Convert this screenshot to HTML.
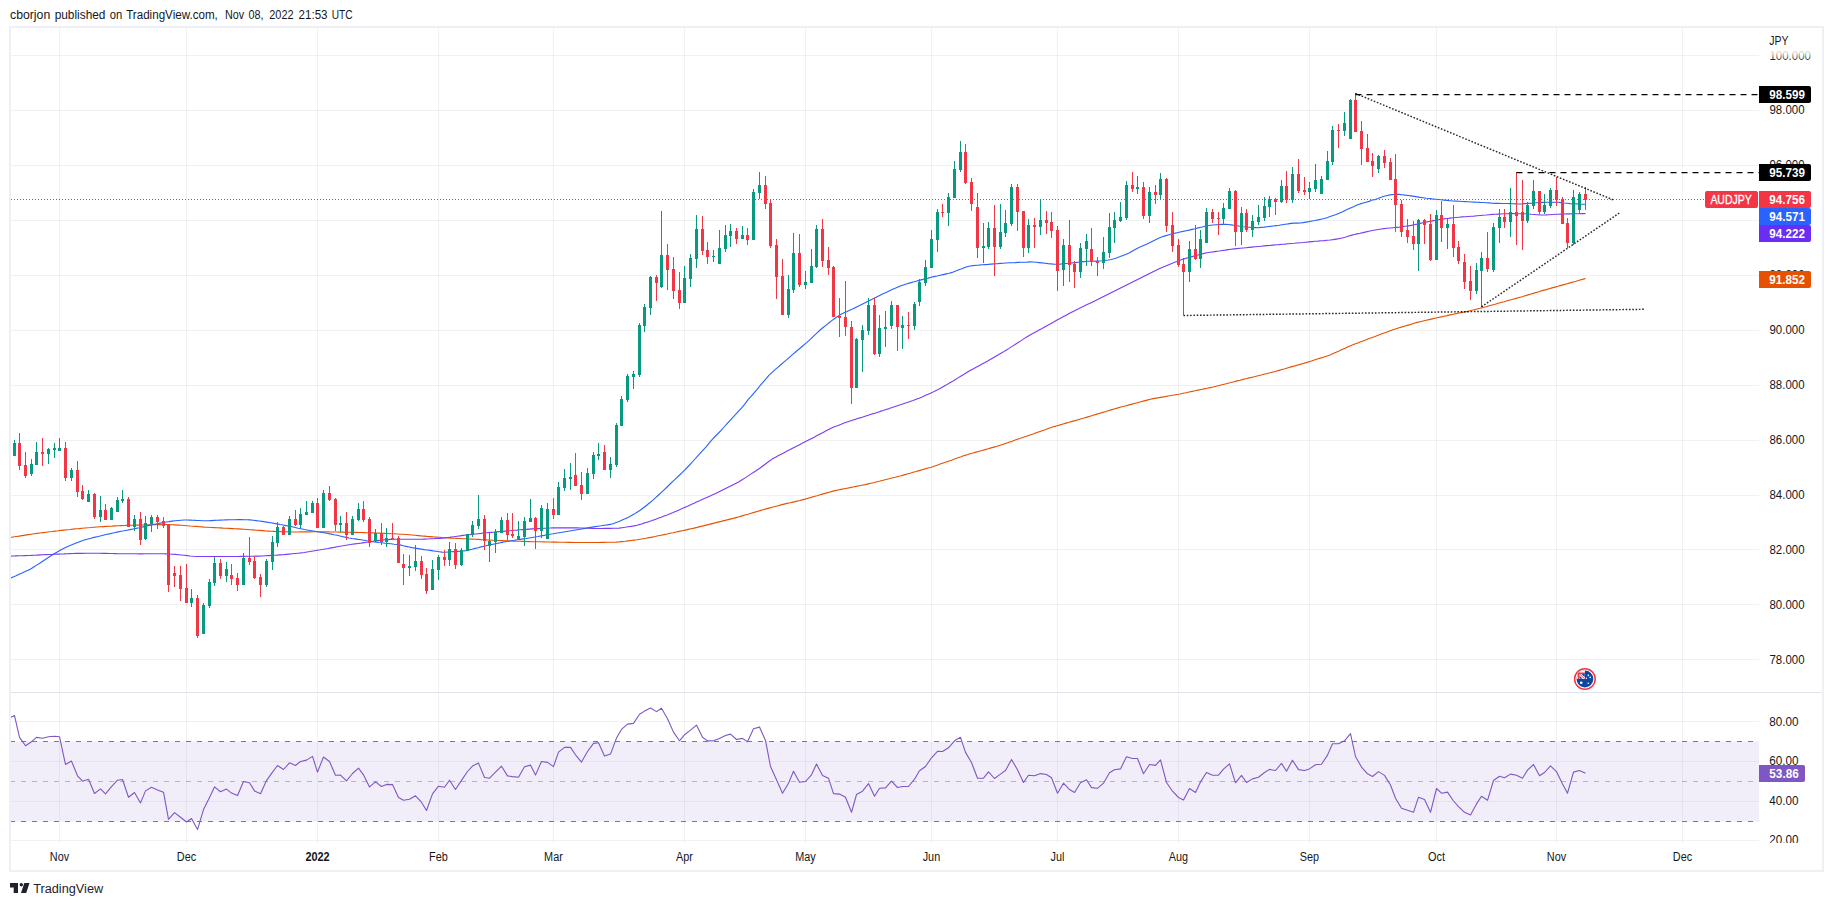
<!DOCTYPE html>
<html lang="en"><head><meta charset="utf-8"><title>AUDJPY chart</title>
<style>html,body{margin:0;padding:0;background:#fff}body{width:1833px;height:906px;overflow:hidden;position:relative}</style></head>
<body>
<svg width="1833" height="906" viewBox="0 0 1833 906" style="position:absolute;left:0;top:0;font-family:'Liberation Sans', Arial, sans-serif">
<rect x="0" y="0" width="1833" height="906" fill="#ffffff"/>
<text y="19" font-size="12.5" fill="#131722"><tspan x="10.0" textLength="40.2" lengthAdjust="spacingAndGlyphs">cborjon</tspan> <tspan x="54.7" textLength="50.7" lengthAdjust="spacingAndGlyphs">published</tspan> <tspan x="109.7" textLength="12.5" lengthAdjust="spacingAndGlyphs">on</tspan> <tspan x="126.2" textLength="91.6" lengthAdjust="spacingAndGlyphs">TradingView.com,</tspan> <tspan x="225.1" textLength="19.1" lengthAdjust="spacingAndGlyphs">Nov</tspan> <tspan x="248.4" textLength="15.1" lengthAdjust="spacingAndGlyphs">08,</tspan> <tspan x="269.3" textLength="24.3" lengthAdjust="spacingAndGlyphs">2022</tspan> <tspan x="298.6" textLength="28.9" lengthAdjust="spacingAndGlyphs">21:53</tspan> <tspan x="331.7" textLength="20.9" lengthAdjust="spacingAndGlyphs">UTC</tspan></text>
<g shape-rendering="crispEdges" fill="#2a2e39" fill-opacity="0.065"><rect x="11" y="55" width="1748" height="1"/><rect x="11" y="110" width="1748" height="1"/><rect x="11" y="165" width="1748" height="1"/><rect x="11" y="220" width="1748" height="1"/><rect x="11" y="275" width="1748" height="1"/><rect x="11" y="330" width="1748" height="1"/><rect x="11" y="385" width="1748" height="1"/><rect x="11" y="440" width="1748" height="1"/><rect x="11" y="495" width="1748" height="1"/><rect x="11" y="549" width="1748" height="1"/><rect x="11" y="604" width="1748" height="1"/><rect x="11" y="659" width="1748" height="1"/><rect x="11" y="721" width="1748" height="1"/><rect x="11" y="761" width="1748" height="1"/><rect x="11" y="801" width="1748" height="1"/><rect x="11" y="840" width="1748" height="1"/><rect x="59" y="28" width="1" height="815"/><rect x="186" y="28" width="1" height="815"/><rect x="317" y="28" width="1" height="815"/><rect x="438" y="28" width="1" height="815"/><rect x="553" y="28" width="1" height="815"/><rect x="684" y="28" width="1" height="815"/><rect x="805" y="28" width="1" height="815"/><rect x="931" y="28" width="1" height="815"/><rect x="1057" y="28" width="1" height="815"/><rect x="1178" y="28" width="1" height="815"/><rect x="1309" y="28" width="1" height="815"/><rect x="1436" y="28" width="1" height="815"/><rect x="1556" y="28" width="1" height="815"/><rect x="1682" y="28" width="1" height="815"/></g>
<rect x="11" y="741.5" width="1748" height="80" fill="#7e57c2" fill-opacity="0.1"/>
<g shape-rendering="crispEdges"><line x1="10" y1="741.5" x2="1759" y2="741.5" stroke="#787b86" stroke-width="1" stroke-dasharray="5 6"/><line x1="10" y1="781.5" x2="1759" y2="781.5" stroke="#787b86" stroke-opacity="0.5" stroke-width="1" stroke-dasharray="5 6"/><line x1="10" y1="821.5" x2="1759" y2="821.5" stroke="#787b86" stroke-width="1" stroke-dasharray="5 6"/></g>
<rect x="11" y="692" width="1811" height="1" fill="#e0e3eb" shape-rendering="crispEdges"/>
<path d="M10.1 537.5 L13.1 537.0 L16.1 536.5 L19.1 536.1 L22.1 535.6 L25.1 535.1 L28.1 534.6 L31.1 534.2 L34.1 533.8 L37.1 533.4 L40.1 533.0 L43.1 532.6 L46.1 532.2 L49.1 531.8 L52.1 531.5 L55.1 531.1 L58.1 530.8 L61.1 530.4 L64.1 530.1 L67.1 529.8 L70.1 529.5 L73.1 529.1 L76.1 528.8 L79.1 528.6 L82.1 528.3 L85.1 528.0 L88.1 527.7 L91.1 527.5 L94.1 527.2 L97.1 527.0 L100.1 526.8 L103.1 526.6 L106.1 526.4 L109.1 526.2 L112.1 526.1 L115.1 525.9 L118.1 525.7 L121.1 525.6 L124.1 525.5 L127.1 525.4 L130.1 525.3 L133.1 525.2 L136.1 525.1 L139.1 525.1 L142.1 525.0 L145.1 524.9 L148.1 524.9 L151.1 524.8 L154.1 524.7 L157.1 524.6 L160.1 524.6 L163.1 524.5 L166.1 524.5 L169.1 524.6 L172.1 524.8 L175.1 524.9 L178.1 525.1 L181.1 525.3 L184.1 525.5 L187.1 525.7 L190.1 526.0 L193.1 526.2 L196.1 526.4 L199.1 526.7 L202.1 526.9 L205.1 527.2 L208.1 527.3 L211.1 527.5 L214.1 527.6 L217.1 527.8 L220.1 527.9 L223.1 528.1 L226.1 528.2 L229.1 528.4 L232.1 528.6 L235.1 528.8 L238.1 528.9 L241.1 529.1 L244.1 529.3 L247.1 529.5 L250.1 529.7 L253.1 529.9 L256.1 530.2 L259.1 530.4 L262.1 530.6 L265.1 530.9 L268.1 531.1 L271.1 531.3 L274.1 531.4 L277.1 531.5 L280.1 531.6 L283.1 531.7 L286.1 531.8 L289.1 531.9 L292.1 532.0 L295.1 532.0 L298.1 532.0 L301.1 531.9 L304.1 531.9 L307.1 531.9 L310.1 531.9 L313.1 531.8 L316.1 531.8 L319.1 531.8 L322.1 531.9 L325.1 531.9 L328.1 531.9 L331.1 532.0 L334.1 532.0 L337.1 532.0 L340.1 532.1 L343.1 532.1 L346.1 532.2 L349.1 532.3 L352.1 532.3 L355.1 532.4 L358.1 532.5 L361.1 532.5 L364.1 532.6 L367.1 532.7 L370.1 532.8 L373.1 532.9 L376.1 533.0 L379.1 533.1 L382.1 533.2 L385.1 533.4 L388.1 533.5 L391.1 533.7 L394.1 533.8 L397.1 534.0 L400.1 534.2 L403.1 534.3 L406.1 534.5 L409.1 534.7 L412.1 535.0 L415.1 535.3 L418.1 535.6 L421.1 535.9 L424.1 536.1 L427.1 536.4 L430.1 536.6 L433.1 536.9 L436.1 537.1 L439.1 537.3 L442.1 537.6 L445.1 537.8 L448.1 537.9 L451.1 538.1 L454.1 538.2 L457.1 538.4 L460.1 538.5 L463.1 538.7 L466.1 538.8 L469.1 539.0 L472.1 539.1 L475.1 539.3 L478.1 539.4 L481.1 539.6 L484.1 539.7 L487.1 539.9 L490.1 540.0 L493.1 540.2 L496.1 540.3 L499.1 540.5 L502.1 540.6 L505.1 540.8 L508.1 540.9 L511.1 541.0 L514.1 541.1 L517.1 541.2 L520.1 541.3 L523.1 541.4 L526.1 541.5 L529.1 541.6 L532.1 541.7 L535.1 541.7 L538.1 541.8 L541.1 541.8 L544.1 541.9 L547.1 542.0 L550.1 542.0 L553.1 542.1 L556.1 542.1 L559.1 542.2 L562.1 542.3 L565.1 542.3 L568.1 542.4 L571.1 542.4 L574.1 542.5 L577.1 542.5 L580.1 542.5 L583.1 542.5 L586.1 542.5 L589.1 542.5 L592.1 542.5 L595.1 542.5 L598.1 542.5 L601.1 542.4 L604.1 542.4 L607.1 542.3 L610.1 542.2 L613.1 542.2 L616.1 542.1 L619.1 541.9 L622.1 541.6 L625.1 541.3 L628.1 540.9 L631.1 540.5 L634.1 540.1 L637.1 539.7 L640.1 539.2 L643.1 538.7 L646.1 538.2 L649.1 537.6 L652.1 537.1 L655.1 536.5 L658.1 535.8 L661.1 535.2 L664.1 534.6 L667.1 534.0 L670.1 533.3 L673.1 532.7 L676.1 532.0 L679.1 531.4 L682.1 530.7 L685.1 530.1 L688.1 529.4 L691.1 528.7 L694.1 528.1 L697.1 527.4 L700.1 526.6 L703.1 525.9 L706.1 525.1 L709.1 524.4 L712.1 523.6 L715.1 522.9 L718.1 522.1 L721.1 521.4 L724.1 520.6 L727.1 519.9 L730.1 519.1 L733.1 518.4 L736.1 517.6 L739.1 516.8 L742.1 515.9 L745.1 515.0 L748.1 514.2 L751.1 513.3 L754.1 512.4 L757.1 511.5 L760.1 510.6 L763.1 509.7 L766.1 508.9 L769.1 508.1 L772.1 507.3 L775.1 506.5 L778.1 505.7 L781.1 504.9 L784.1 504.1 L787.1 503.4 L790.1 502.8 L793.1 502.1 L796.1 501.4 L799.1 500.7 L802.1 499.9 L805.1 499.1 L808.1 498.2 L811.1 497.4 L814.1 496.5 L817.1 495.7 L820.1 494.8 L823.1 493.9 L826.1 493.1 L829.1 492.2 L832.1 491.4 L835.1 490.6 L838.1 490.0 L841.1 489.4 L844.1 488.8 L847.1 488.2 L850.1 487.6 L853.1 487.0 L856.1 486.4 L859.1 485.8 L862.1 485.2 L865.1 484.6 L868.1 483.9 L871.1 483.2 L874.1 482.5 L877.1 481.7 L880.1 481.0 L883.1 480.2 L886.1 479.5 L889.1 478.8 L892.1 478.0 L895.1 477.3 L898.1 476.5 L901.1 475.8 L904.1 474.9 L907.1 474.0 L910.1 473.2 L913.1 472.3 L916.1 471.5 L919.1 470.6 L922.1 469.7 L925.1 468.9 L928.1 468.0 L931.1 467.2 L934.1 466.2 L937.1 465.2 L940.1 464.1 L943.1 463.0 L946.1 462.0 L949.1 460.9 L952.1 459.9 L955.1 458.8 L958.1 457.7 L961.1 456.7 L964.1 455.6 L967.1 454.7 L970.1 453.8 L973.1 453.0 L976.1 452.1 L979.1 451.3 L982.1 450.5 L985.1 449.6 L988.1 448.8 L991.1 447.9 L994.1 447.1 L997.1 446.3 L1000.1 445.3 L1003.1 444.3 L1006.1 443.2 L1009.1 442.2 L1012.1 441.2 L1015.1 440.1 L1018.1 439.1 L1021.1 438.1 L1024.1 437.0 L1027.1 436.0 L1030.1 434.9 L1033.1 433.9 L1036.1 432.8 L1039.1 431.8 L1042.1 430.7 L1045.1 429.7 L1048.1 428.6 L1051.1 427.6 L1054.1 426.6 L1057.1 425.7 L1060.1 424.9 L1063.1 424.0 L1066.1 423.1 L1069.1 422.3 L1072.1 421.4 L1075.1 420.6 L1078.1 419.7 L1081.1 418.8 L1084.1 418.0 L1087.1 417.1 L1090.1 416.2 L1093.1 415.3 L1096.1 414.4 L1099.1 413.5 L1102.1 412.6 L1105.1 411.7 L1108.1 410.8 L1111.1 409.9 L1114.1 409.0 L1117.1 408.1 L1120.1 407.3 L1123.1 406.5 L1126.1 405.7 L1129.1 404.9 L1132.1 404.1 L1135.1 403.3 L1138.1 402.5 L1141.1 401.7 L1144.1 400.9 L1147.1 400.1 L1150.1 399.3 L1153.1 398.6 L1156.1 398.1 L1159.1 397.6 L1162.1 397.1 L1165.1 396.6 L1168.1 396.0 L1171.1 395.5 L1174.1 395.0 L1177.1 394.5 L1180.1 394.0 L1183.1 393.3 L1186.1 392.7 L1189.1 392.0 L1192.1 391.4 L1195.1 390.8 L1198.1 390.1 L1201.1 389.5 L1204.1 388.9 L1207.1 388.3 L1210.1 387.6 L1213.1 387.0 L1216.1 386.3 L1219.1 385.5 L1222.1 384.7 L1225.1 384.0 L1228.1 383.2 L1231.1 382.5 L1234.1 381.7 L1237.1 380.9 L1240.1 380.2 L1243.1 379.4 L1246.1 378.7 L1249.1 377.9 L1252.1 377.2 L1255.1 376.5 L1258.1 375.7 L1261.1 375.0 L1264.1 374.2 L1267.1 373.5 L1270.1 372.8 L1273.1 372.0 L1276.1 371.2 L1279.1 370.4 L1282.1 369.5 L1285.1 368.7 L1288.1 367.8 L1291.1 366.9 L1294.1 366.1 L1297.1 365.2 L1300.1 364.4 L1303.1 363.5 L1306.1 362.6 L1309.1 361.7 L1312.1 360.8 L1315.1 359.8 L1318.1 358.8 L1321.1 357.9 L1324.1 356.9 L1327.1 355.9 L1330.1 354.9 L1333.1 353.6 L1336.1 352.2 L1339.1 350.9 L1342.1 349.5 L1345.1 348.2 L1348.1 346.8 L1351.1 345.5 L1354.1 344.3 L1357.1 343.2 L1360.1 342.0 L1363.1 340.9 L1366.1 339.8 L1369.1 338.6 L1372.1 337.5 L1375.1 336.4 L1378.1 335.2 L1381.1 334.1 L1384.1 333.0 L1387.1 331.9 L1390.1 330.8 L1393.1 329.7 L1396.1 328.7 L1399.1 327.8 L1402.1 326.9 L1405.1 326.0 L1408.1 325.1 L1411.1 324.2 L1414.1 323.3 L1417.1 322.4 L1420.1 321.7 L1423.1 321.0 L1426.1 320.3 L1429.1 319.6 L1432.1 318.9 L1435.1 318.2 L1438.1 317.5 L1441.1 316.9 L1444.1 316.2 L1447.1 315.6 L1450.1 314.9 L1453.1 314.3 L1456.1 313.6 L1459.1 313.0 L1462.1 312.4 L1465.1 311.9 L1468.1 311.2 L1471.1 310.5 L1474.1 309.8 L1477.1 309.0 L1480.1 308.3 L1483.1 307.5 L1486.1 306.7 L1489.1 305.8 L1492.1 305.0 L1495.1 304.2 L1498.1 303.3 L1501.1 302.5 L1504.1 301.7 L1507.1 300.8 L1510.1 300.0 L1513.1 299.2 L1516.1 298.4 L1519.1 297.5 L1522.1 296.7 L1525.1 295.8 L1528.1 294.9 L1531.1 294.0 L1534.1 293.1 L1537.1 292.2 L1540.1 291.3 L1543.1 290.4 L1546.1 289.6 L1549.1 288.7 L1552.1 287.9 L1555.1 287.1 L1558.1 286.3 L1561.1 285.4 L1564.1 284.6 L1567.1 283.8 L1570.1 282.9 L1573.1 282.0 L1576.1 281.2 L1579.1 280.3 L1585.1 278.6" fill="none" stroke="#e65100" stroke-width="1.1" stroke-linejoin="round" stroke-linecap="round"/>
<path d="M10.1 556.1 L13.1 556.0 L16.1 555.9 L19.1 555.8 L22.1 555.7 L25.1 555.6 L28.1 555.5 L31.1 555.4 L34.1 555.2 L37.1 555.1 L40.1 554.9 L43.1 554.8 L46.1 554.6 L49.1 554.5 L52.1 554.4 L55.1 554.2 L58.1 554.1 L61.1 554.0 L64.1 553.9 L67.1 553.7 L70.1 553.6 L73.1 553.5 L76.1 553.4 L79.1 553.4 L82.1 553.4 L85.1 553.3 L88.1 553.3 L91.1 553.3 L94.1 553.3 L97.1 553.2 L100.1 553.3 L103.1 553.4 L106.1 553.4 L109.1 553.5 L112.1 553.5 L115.1 553.6 L118.1 553.7 L121.1 553.7 L124.1 553.7 L127.1 553.7 L130.1 553.8 L133.1 553.8 L136.1 553.8 L139.1 553.9 L142.1 553.9 L145.1 553.8 L148.1 553.8 L151.1 553.8 L154.1 553.8 L157.1 553.7 L160.1 553.7 L163.1 553.8 L166.1 553.9 L169.1 554.0 L172.1 554.2 L175.1 554.4 L178.1 554.7 L181.1 555.0 L184.1 555.3 L187.1 555.6 L190.1 556.0 L193.1 556.3 L196.1 556.5 L199.1 556.5 L202.1 556.5 L205.1 556.5 L208.1 556.5 L211.1 556.5 L214.1 556.5 L217.1 556.5 L220.1 556.5 L223.1 556.5 L226.1 556.5 L229.1 556.5 L232.1 556.5 L235.1 556.5 L238.1 556.5 L241.1 556.4 L244.1 556.4 L247.1 556.3 L250.1 556.3 L253.1 556.2 L256.1 556.1 L259.1 556.1 L262.1 556.0 L265.1 555.8 L268.1 555.6 L271.1 555.4 L274.1 555.2 L277.1 555.1 L280.1 554.9 L283.1 554.7 L286.1 554.4 L289.1 554.1 L292.1 553.8 L295.1 553.5 L298.1 553.2 L301.1 552.9 L304.1 552.5 L307.1 552.0 L310.1 551.5 L313.1 551.0 L316.1 550.5 L319.1 550.0 L322.1 549.5 L325.1 549.0 L328.1 548.5 L331.1 547.9 L334.1 547.4 L337.1 546.8 L340.1 546.3 L343.1 545.8 L346.1 545.2 L349.1 544.7 L352.1 544.3 L355.1 543.9 L358.1 543.5 L361.1 543.1 L364.1 542.6 L367.1 542.2 L370.1 541.8 L373.1 541.3 L376.1 540.9 L379.1 540.4 L382.1 540.1 L385.1 539.8 L388.1 539.6 L391.1 539.4 L394.1 539.3 L397.1 539.3 L400.1 539.3 L403.1 539.2 L406.1 539.2 L409.1 539.2 L412.1 539.2 L415.1 539.2 L418.1 539.2 L421.1 539.2 L424.1 539.1 L427.1 539.0 L430.1 538.8 L433.1 538.7 L436.1 538.5 L439.1 538.4 L442.1 538.2 L445.1 537.9 L448.1 537.5 L451.1 537.1 L454.1 536.7 L457.1 536.3 L460.1 535.9 L463.1 535.4 L466.1 535.0 L469.1 534.7 L472.1 534.4 L475.1 534.0 L478.1 533.7 L481.1 533.4 L484.1 533.0 L487.1 532.7 L490.1 532.4 L493.1 532.2 L496.1 531.9 L499.1 531.6 L502.1 531.4 L505.1 531.1 L508.1 530.8 L511.1 530.6 L514.1 530.3 L517.1 530.1 L520.1 529.8 L523.1 529.6 L526.1 529.4 L529.1 529.1 L532.1 528.9 L535.1 528.8 L538.1 528.6 L541.1 528.5 L544.1 528.3 L547.1 528.2 L550.1 528.0 L553.1 527.9 L556.1 527.9 L559.1 527.9 L562.1 527.9 L565.1 527.9 L568.1 527.9 L571.1 527.9 L574.1 527.9 L577.1 527.9 L580.1 528.0 L583.1 528.1 L586.1 528.2 L589.1 528.3 L592.1 528.4 L595.1 528.5 L598.1 528.5 L601.1 528.5 L604.1 528.4 L607.1 528.4 L610.1 528.4 L613.1 528.3 L616.1 528.3 L619.1 528.1 L622.1 527.7 L625.1 527.3 L628.1 526.8 L631.1 526.4 L634.1 525.9 L637.1 525.2 L640.1 524.4 L643.1 523.4 L646.1 522.5 L649.1 521.6 L652.1 520.6 L655.1 519.4 L658.1 518.3 L661.1 517.2 L664.1 516.0 L667.1 514.9 L670.1 513.7 L673.1 512.6 L676.1 511.3 L679.1 509.9 L682.1 508.6 L685.1 507.2 L688.1 505.9 L691.1 504.5 L694.1 503.2 L697.1 501.8 L700.1 500.5 L703.1 499.1 L706.1 497.8 L709.1 496.4 L712.1 495.1 L715.1 493.7 L718.1 492.3 L721.1 490.8 L724.1 489.3 L727.1 487.8 L730.1 486.3 L733.1 484.8 L736.1 483.3 L739.1 481.7 L742.1 479.8 L745.1 477.9 L748.1 475.9 L751.1 473.9 L754.1 472.0 L757.1 470.0 L760.1 468.0 L763.1 465.8 L766.1 463.5 L769.1 461.2 L772.1 459.1 L775.1 457.5 L778.1 455.8 L781.1 454.3 L784.1 452.7 L787.1 451.1 L790.1 449.6 L793.1 448.0 L796.1 446.4 L799.1 444.9 L802.1 443.3 L805.1 441.8 L808.1 440.3 L811.1 438.7 L814.1 437.2 L817.1 435.6 L820.1 434.0 L823.1 432.4 L826.1 430.8 L829.1 429.2 L832.1 427.7 L835.1 426.5 L838.1 425.4 L841.1 424.3 L844.1 423.1 L847.1 422.0 L850.1 421.0 L853.1 420.0 L856.1 419.1 L859.1 418.1 L862.1 417.2 L865.1 416.2 L868.1 415.3 L871.1 414.3 L874.1 413.4 L877.1 412.4 L880.1 411.4 L883.1 410.5 L886.1 409.5 L889.1 408.6 L892.1 407.6 L895.1 406.6 L898.1 405.6 L901.1 404.6 L904.1 403.5 L907.1 402.5 L910.1 401.4 L913.1 400.4 L916.1 399.3 L919.1 398.2 L922.1 396.9 L925.1 395.6 L928.1 394.3 L931.1 392.9 L934.1 391.6 L937.1 390.1 L940.1 388.5 L943.1 386.8 L946.1 385.1 L949.1 383.3 L952.1 381.6 L955.1 379.7 L958.1 377.9 L961.1 376.0 L964.1 374.2 L967.1 372.3 L970.1 370.6 L973.1 368.9 L976.1 367.3 L979.1 365.7 L982.1 364.1 L985.1 362.5 L988.1 360.8 L991.1 359.0 L994.1 357.3 L997.1 355.5 L1000.1 353.8 L1003.1 352.1 L1006.1 350.3 L1009.1 348.4 L1012.1 346.4 L1015.1 344.5 L1018.1 342.5 L1021.1 340.6 L1024.1 338.6 L1027.1 336.7 L1030.1 335.0 L1033.1 333.3 L1036.1 331.7 L1039.1 330.0 L1042.1 328.4 L1045.1 326.7 L1048.1 325.1 L1051.1 323.4 L1054.1 321.8 L1057.1 320.1 L1060.1 318.5 L1063.1 316.8 L1066.1 315.2 L1069.1 313.5 L1072.1 311.9 L1075.1 310.4 L1078.1 309.0 L1081.1 307.5 L1084.1 306.1 L1087.1 304.6 L1090.1 303.2 L1093.1 301.7 L1096.1 300.3 L1099.1 298.8 L1102.1 297.3 L1105.1 295.8 L1108.1 294.3 L1111.1 292.8 L1114.1 291.3 L1117.1 289.8 L1120.1 288.3 L1123.1 286.8 L1126.1 285.3 L1129.1 283.8 L1132.1 282.3 L1135.1 280.8 L1138.1 279.3 L1141.1 277.8 L1144.1 276.3 L1147.1 274.8 L1150.1 273.3 L1153.1 271.8 L1156.1 270.3 L1159.1 268.8 L1162.1 267.5 L1165.1 266.2 L1168.1 265.0 L1171.1 263.8 L1174.1 262.6 L1177.1 261.4 L1180.1 260.2 L1183.1 259.1 L1186.1 258.2 L1189.1 257.4 L1192.1 256.6 L1195.1 255.8 L1198.1 255.0 L1201.1 254.2 L1204.1 253.4 L1207.1 252.8 L1210.1 252.3 L1213.1 251.9 L1216.1 251.4 L1219.1 251.0 L1222.1 250.5 L1225.1 250.1 L1228.1 249.6 L1231.1 249.2 L1234.1 248.9 L1237.1 248.6 L1240.1 248.3 L1243.1 248.0 L1246.1 247.7 L1249.1 247.4 L1252.1 247.1 L1255.1 246.8 L1258.1 246.5 L1261.1 246.2 L1264.1 245.9 L1267.1 245.6 L1270.1 245.4 L1273.1 245.1 L1276.1 244.8 L1279.1 244.6 L1282.1 244.3 L1285.1 244.1 L1288.1 243.8 L1291.1 243.5 L1294.1 243.3 L1297.1 243.0 L1300.1 242.7 L1303.1 242.5 L1306.1 242.2 L1309.1 241.9 L1312.1 241.6 L1315.1 241.3 L1318.1 241.1 L1321.1 240.8 L1324.1 240.6 L1327.1 240.3 L1330.1 240.0 L1333.1 239.6 L1336.1 239.1 L1339.1 238.6 L1342.1 238.0 L1345.1 237.2 L1348.1 236.3 L1351.1 235.4 L1354.1 234.5 L1357.1 233.9 L1360.1 233.3 L1363.1 232.6 L1366.1 231.9 L1369.1 231.2 L1372.1 230.5 L1375.1 230.0 L1378.1 229.5 L1381.1 229.0 L1384.1 228.6 L1387.1 228.3 L1390.1 228.0 L1393.1 227.7 L1396.1 227.4 L1399.1 227.1 L1402.1 226.7 L1405.1 226.3 L1408.1 225.9 L1411.1 225.4 L1414.1 224.7 L1417.1 224.1 L1420.1 223.4 L1423.1 222.7 L1426.1 222.1 L1429.1 221.5 L1432.1 220.9 L1435.1 220.4 L1438.1 219.8 L1441.1 219.3 L1444.1 218.9 L1447.1 218.5 L1450.1 218.1 L1453.1 217.8 L1456.1 217.5 L1459.1 217.2 L1462.1 216.9 L1465.1 216.7 L1468.1 216.5 L1471.1 216.3 L1474.1 216.1 L1477.1 215.8 L1480.1 215.5 L1483.1 215.2 L1486.1 215.0 L1489.1 214.7 L1492.1 214.4 L1495.1 214.2 L1498.1 214.1 L1501.1 214.0 L1504.1 213.8 L1507.1 213.7 L1510.1 213.6 L1513.1 213.6 L1516.1 213.7 L1519.1 213.7 L1522.1 213.8 L1525.1 213.8 L1528.1 214.0 L1531.1 214.3 L1534.1 214.5 L1537.1 214.7 L1540.1 214.9 L1543.1 215.0 L1546.1 214.9 L1549.1 214.7 L1552.1 214.5 L1555.1 214.3 L1558.1 214.2 L1561.1 214.1 L1564.1 214.0 L1567.1 213.9 L1570.1 213.9 L1573.1 213.8 L1576.1 213.7 L1579.1 213.7 L1582.1 213.6 L1585.1 213.6" fill="none" stroke="#7c3cf5" stroke-width="1.1" stroke-linejoin="round" stroke-linecap="round"/>
<path d="M10.1 578.4 L13.1 577.0 L16.1 575.7 L19.1 574.3 L22.1 573.0 L25.1 571.6 L28.1 570.2 L31.1 568.7 L34.1 566.8 L37.1 564.9 L40.1 563.0 L43.1 561.0 L46.1 559.0 L49.1 557.0 L52.1 555.0 L55.1 553.2 L58.1 551.5 L61.1 549.8 L64.1 548.2 L67.1 546.8 L70.1 545.5 L73.1 544.2 L76.1 543.0 L79.1 541.9 L82.1 540.8 L85.1 539.8 L88.1 539.0 L91.1 538.2 L94.1 537.4 L97.1 536.7 L100.1 536.0 L103.1 535.2 L106.1 534.5 L109.1 533.9 L112.1 533.2 L115.1 532.5 L118.1 531.9 L121.1 531.3 L124.1 530.8 L127.1 530.2 L130.1 529.6 L133.1 529.0 L136.1 528.4 L139.1 527.8 L142.1 527.1 L145.1 526.4 L148.1 525.6 L151.1 524.9 L154.1 524.3 L157.1 523.7 L160.1 523.1 L163.1 522.5 L166.1 522.0 L169.1 521.6 L172.1 521.1 L175.1 520.8 L178.1 520.5 L181.1 520.2 L184.1 520.0 L187.1 520.0 L190.1 520.1 L193.1 520.2 L196.1 520.4 L199.1 520.5 L202.1 520.7 L205.1 520.8 L208.1 520.8 L211.1 520.6 L214.1 520.4 L217.1 520.2 L220.1 520.1 L223.1 520.0 L226.1 519.9 L229.1 519.8 L232.1 519.7 L235.1 519.7 L238.1 519.6 L241.1 519.6 L244.1 519.7 L247.1 519.7 L250.1 519.9 L253.1 520.2 L256.1 520.6 L259.1 521.0 L262.1 521.4 L265.1 521.9 L268.1 522.4 L271.1 522.8 L274.1 523.4 L277.1 523.9 L280.1 524.5 L283.1 525.0 L286.1 525.6 L289.1 526.2 L292.1 526.8 L295.1 527.5 L298.1 528.2 L301.1 528.8 L304.1 529.5 L307.1 530.0 L310.1 530.5 L313.1 531.0 L316.1 531.5 L319.1 532.0 L322.1 532.5 L325.1 533.0 L328.1 533.5 L331.1 534.1 L334.1 534.7 L337.1 535.2 L340.1 536.0 L343.1 536.7 L346.1 537.4 L349.1 538.0 L352.1 538.5 L355.1 538.9 L358.1 539.4 L361.1 539.8 L364.1 540.3 L367.1 540.8 L370.1 541.2 L373.1 541.7 L376.1 542.1 L379.1 542.5 L382.1 542.8 L385.1 543.2 L388.1 543.5 L391.1 543.8 L394.1 544.2 L397.1 544.5 L400.1 544.9 L403.1 545.7 L406.1 546.4 L409.1 547.0 L412.1 547.6 L415.1 548.1 L418.1 548.6 L421.1 549.1 L424.1 549.6 L427.1 550.0 L430.1 550.4 L433.1 550.9 L436.1 551.3 L439.1 551.7 L442.1 552.1 L445.1 552.2 L448.1 552.0 L451.1 551.8 L454.1 551.6 L457.1 551.4 L460.1 551.2 L463.1 551.0 L466.1 550.6 L469.1 549.9 L472.1 549.2 L475.1 548.4 L478.1 547.7 L481.1 546.9 L484.1 546.2 L487.1 545.5 L490.1 544.8 L493.1 544.2 L496.1 543.6 L499.1 543.0 L502.1 542.4 L505.1 541.8 L508.1 541.2 L511.1 540.7 L514.1 540.3 L517.1 539.8 L520.1 539.4 L523.1 538.9 L526.1 538.5 L529.1 538.0 L532.1 537.5 L535.1 537.0 L538.1 536.5 L541.1 535.9 L544.1 535.4 L547.1 534.8 L550.1 534.3 L553.1 533.8 L556.1 533.2 L559.1 532.7 L562.1 532.2 L565.1 531.7 L568.1 531.2 L571.1 530.7 L574.1 530.2 L577.1 529.7 L580.1 529.2 L583.1 528.7 L586.1 528.1 L589.1 527.6 L592.1 527.1 L595.1 526.6 L598.1 526.2 L601.1 525.8 L604.1 525.3 L607.1 524.9 L610.1 524.4 L613.1 523.8 L616.1 522.6 L619.1 521.4 L622.1 520.1 L625.1 518.8 L628.1 517.4 L631.1 515.8 L634.1 514.1 L637.1 512.2 L640.1 510.3 L643.1 508.0 L646.1 505.7 L649.1 503.3 L652.1 500.8 L655.1 498.2 L658.1 495.5 L661.1 492.7 L664.1 489.9 L667.1 487.0 L670.1 484.0 L673.1 481.1 L676.1 478.3 L679.1 475.5 L682.1 472.7 L685.1 469.7 L688.1 466.5 L691.1 463.3 L694.1 460.0 L697.1 456.7 L700.1 453.4 L703.1 450.1 L706.1 446.8 L709.1 443.2 L712.1 439.6 L715.1 436.5 L718.1 433.5 L721.1 430.3 L724.1 427.0 L727.1 423.7 L730.1 420.4 L733.1 417.2 L736.1 413.9 L739.1 410.6 L742.1 407.4 L745.1 403.7 L748.1 399.7 L751.1 396.3 L754.1 392.8 L757.1 389.3 L760.1 385.7 L763.1 382.2 L766.1 378.7 L769.1 375.2 L772.1 372.4 L775.1 369.7 L778.1 367.1 L781.1 364.5 L784.1 361.9 L787.1 359.4 L790.1 356.7 L793.1 354.1 L796.1 351.5 L799.1 349.0 L802.1 346.5 L805.1 343.9 L808.1 341.3 L811.1 338.6 L814.1 335.7 L817.1 332.9 L820.1 330.0 L823.1 327.5 L826.1 325.1 L829.1 322.7 L832.1 320.4 L835.1 318.3 L838.1 316.3 L841.1 314.3 L844.1 312.8 L847.1 311.4 L850.1 310.1 L853.1 308.7 L856.1 307.2 L859.1 305.8 L862.1 304.3 L865.1 302.8 L868.1 301.3 L871.1 299.8 L874.1 298.3 L877.1 296.8 L880.1 295.3 L883.1 293.8 L886.1 292.4 L889.1 291.0 L892.1 289.6 L895.1 288.3 L898.1 286.9 L901.1 285.7 L904.1 284.7 L907.1 283.8 L910.1 282.9 L913.1 282.0 L916.1 281.2 L919.1 280.4 L922.1 279.6 L925.1 278.8 L928.1 278.1 L931.1 277.3 L934.1 276.6 L937.1 276.0 L940.1 275.3 L943.1 274.6 L946.1 273.9 L949.1 273.2 L952.1 272.4 L955.1 271.3 L958.1 270.1 L961.1 269.0 L964.1 267.8 L967.1 266.7 L970.1 266.0 L973.1 265.6 L976.1 265.3 L979.1 265.1 L982.1 264.8 L985.1 264.6 L988.1 264.4 L991.1 264.1 L994.1 263.9 L997.1 263.7 L1000.1 263.4 L1003.1 263.2 L1006.1 263.0 L1009.1 262.8 L1012.1 262.7 L1015.1 262.6 L1018.1 262.4 L1021.1 262.3 L1024.1 262.2 L1027.1 262.1 L1030.1 261.9 L1033.1 262.0 L1036.1 262.3 L1039.1 262.6 L1042.1 262.9 L1045.1 263.2 L1048.1 263.6 L1051.1 263.9 L1054.1 264.2 L1057.1 264.3 L1060.1 264.1 L1063.1 263.8 L1066.1 263.5 L1069.1 263.2 L1072.1 262.9 L1075.1 262.6 L1078.1 262.2 L1081.1 261.9 L1084.1 261.6 L1087.1 261.3 L1090.1 261.3 L1093.1 261.2 L1096.1 261.1 L1099.1 261.0 L1102.1 260.8 L1105.1 260.4 L1108.1 260.0 L1111.1 259.5 L1114.1 258.7 L1117.1 257.7 L1120.1 256.6 L1123.1 255.4 L1126.1 254.2 L1129.1 252.9 L1132.1 251.2 L1135.1 249.5 L1138.1 247.9 L1141.1 246.6 L1144.1 245.2 L1147.1 243.9 L1150.1 242.6 L1153.1 241.1 L1156.1 239.6 L1159.1 238.1 L1162.1 236.8 L1165.1 235.9 L1168.1 235.0 L1171.1 234.2 L1174.1 233.4 L1177.1 232.7 L1180.1 232.0 L1183.1 231.4 L1186.1 230.7 L1189.1 230.1 L1192.1 229.4 L1195.1 228.7 L1198.1 227.9 L1201.1 227.2 L1204.1 226.5 L1207.1 225.8 L1210.1 225.2 L1213.1 225.0 L1216.1 224.8 L1219.1 224.6 L1222.1 224.4 L1225.1 224.3 L1228.1 224.5 L1231.1 224.9 L1234.1 225.3 L1237.1 225.8 L1240.1 226.3 L1243.1 226.7 L1246.1 227.0 L1249.1 227.2 L1252.1 227.5 L1255.1 227.6 L1258.1 227.7 L1261.1 227.4 L1264.1 227.1 L1267.1 226.7 L1270.1 226.4 L1273.1 226.0 L1276.1 225.6 L1279.1 225.2 L1282.1 224.7 L1285.1 224.3 L1288.1 223.9 L1291.1 223.4 L1294.1 223.1 L1297.1 223.1 L1300.1 223.0 L1303.1 222.6 L1306.1 222.1 L1309.1 221.6 L1312.1 221.0 L1315.1 220.5 L1318.1 219.9 L1321.1 219.2 L1324.1 218.5 L1327.1 217.7 L1330.1 216.6 L1333.1 215.6 L1336.1 214.5 L1339.1 213.3 L1342.1 212.0 L1345.1 210.5 L1348.1 209.1 L1351.1 207.7 L1354.1 206.4 L1357.1 205.1 L1360.1 203.9 L1363.1 203.0 L1366.1 202.2 L1369.1 201.4 L1372.1 200.0 L1375.1 199.6 L1378.1 198.5 L1381.1 197.2 L1384.1 196.2 L1387.1 195.5 L1390.1 194.9 L1393.1 194.5 L1396.1 194.4 L1399.1 194.4 L1402.1 194.7 L1405.1 195.1 L1408.1 195.5 L1411.1 195.9 L1414.1 196.4 L1417.1 196.9 L1420.1 197.4 L1423.1 197.8 L1426.1 198.2 L1429.1 198.5 L1432.1 198.9 L1435.1 199.2 L1438.1 199.5 L1441.1 199.8 L1444.1 200.1 L1447.1 200.4 L1450.1 200.7 L1453.1 201.0 L1456.1 201.1 L1459.1 201.3 L1462.1 201.5 L1465.1 201.6 L1468.1 201.8 L1471.1 202.0 L1474.1 202.1 L1477.1 202.2 L1480.1 202.4 L1483.1 202.5 L1486.1 202.7 L1489.1 202.9 L1492.1 203.2 L1495.1 203.4 L1498.1 203.4 L1501.1 203.5 L1504.1 203.5 L1507.1 203.5 L1510.1 203.6 L1513.1 203.8 L1516.1 203.9 L1519.1 204.0 L1522.1 203.9 L1525.1 203.6 L1528.1 203.4 L1531.1 203.2 L1534.1 203.0 L1537.1 202.8 L1540.1 202.6 L1543.1 202.4 L1546.1 202.3 L1549.1 202.2 L1552.1 202.2 L1555.1 202.2 L1558.1 202.3 L1561.1 202.6 L1564.1 203.0 L1567.1 203.3 L1570.1 203.6 L1573.1 203.8 L1576.1 203.9 L1579.1 204.0 L1582.1 204.2 L1585.1 204.3" fill="none" stroke="#2962ff" stroke-width="1.1" stroke-linejoin="round" stroke-linecap="round"/>
<line x1="11" y1="199.5" x2="1705" y2="199.5" stroke="#f23645" stroke-width="1" stroke-dasharray="1 2" shape-rendering="crispEdges"/>
<g shape-rendering="crispEdges"><rect x="14" y="440" width="1" height="16" fill="#089981"/><rect x="13" y="443" width="3" height="13" fill="#089981"/><rect x="19" y="433" width="1" height="37" fill="#f23645"/><rect x="18" y="443" width="3" height="23" fill="#f23645"/><rect x="25" y="452" width="1" height="26" fill="#f23645"/><rect x="24" y="465" width="3" height="11" fill="#f23645"/><rect x="31" y="459" width="1" height="17" fill="#089981"/><rect x="30" y="464" width="3" height="10" fill="#089981"/><rect x="36" y="442" width="1" height="23" fill="#089981"/><rect x="35" y="452" width="3" height="13" fill="#089981"/><rect x="42" y="438" width="1" height="28" fill="#f23645"/><rect x="41" y="452" width="3" height="2" fill="#f23645"/><rect x="48" y="448" width="1" height="16" fill="#089981"/><rect x="47" y="449" width="3" height="5" fill="#089981"/><rect x="54" y="443" width="1" height="15" fill="#089981"/><rect x="53" y="448" width="3" height="2" fill="#089981"/><rect x="59" y="438" width="1" height="13" fill="#089981"/><rect x="58" y="448" width="3" height="3" fill="#089981"/><rect x="65" y="442" width="1" height="39" fill="#f23645"/><rect x="64" y="448" width="3" height="30" fill="#f23645"/><rect x="71" y="468" width="1" height="13" fill="#089981"/><rect x="70" y="470" width="3" height="8" fill="#089981"/><rect x="77" y="461" width="1" height="36" fill="#f23645"/><rect x="76" y="470" width="3" height="22" fill="#f23645"/><rect x="82" y="485" width="1" height="15" fill="#f23645"/><rect x="81" y="491" width="3" height="8" fill="#f23645"/><rect x="88" y="490" width="1" height="12" fill="#089981"/><rect x="87" y="494" width="3" height="8" fill="#089981"/><rect x="94" y="493" width="1" height="26" fill="#f23645"/><rect x="93" y="494" width="3" height="23" fill="#f23645"/><rect x="100" y="496" width="1" height="26" fill="#089981"/><rect x="99" y="510" width="3" height="7" fill="#089981"/><rect x="105" y="504" width="1" height="16" fill="#f23645"/><rect x="104" y="510" width="3" height="10" fill="#f23645"/><rect x="111" y="507" width="1" height="13" fill="#089981"/><rect x="110" y="508" width="3" height="12" fill="#089981"/><rect x="117" y="497" width="1" height="15" fill="#089981"/><rect x="116" y="500" width="3" height="12" fill="#089981"/><rect x="122" y="490" width="1" height="13" fill="#089981"/><rect x="121" y="499" width="3" height="2" fill="#089981"/><rect x="128" y="497" width="1" height="30" fill="#f23645"/><rect x="127" y="499" width="3" height="28" fill="#f23645"/><rect x="134" y="515" width="1" height="16" fill="#089981"/><rect x="133" y="519" width="3" height="8" fill="#089981"/><rect x="140" y="512" width="1" height="33" fill="#f23645"/><rect x="139" y="519" width="3" height="21" fill="#f23645"/><rect x="145" y="516" width="1" height="24" fill="#089981"/><rect x="144" y="523" width="3" height="16" fill="#089981"/><rect x="151" y="515" width="1" height="17" fill="#089981"/><rect x="150" y="517" width="3" height="7" fill="#089981"/><rect x="157" y="515" width="1" height="14" fill="#f23645"/><rect x="156" y="517" width="3" height="5" fill="#f23645"/><rect x="163" y="517" width="1" height="11" fill="#f23645"/><rect x="162" y="521" width="3" height="5" fill="#f23645"/><rect x="168" y="524" width="1" height="68" fill="#f23645"/><rect x="167" y="524" width="3" height="61" fill="#f23645"/><rect x="174" y="566" width="1" height="21" fill="#f23645"/><rect x="173" y="573" width="3" height="3" fill="#f23645"/><rect x="180" y="566" width="1" height="35" fill="#f23645"/><rect x="179" y="575" width="3" height="14" fill="#f23645"/><rect x="186" y="564" width="1" height="39" fill="#f23645"/><rect x="185" y="588" width="3" height="15" fill="#f23645"/><rect x="191" y="589" width="1" height="18" fill="#089981"/><rect x="190" y="598" width="3" height="5" fill="#089981"/><rect x="197" y="595" width="1" height="43" fill="#f23645"/><rect x="196" y="598" width="3" height="38" fill="#f23645"/><rect x="203" y="603" width="1" height="31" fill="#089981"/><rect x="202" y="605" width="3" height="29" fill="#089981"/><rect x="209" y="579" width="1" height="29" fill="#089981"/><rect x="208" y="582" width="3" height="24" fill="#089981"/><rect x="214" y="557" width="1" height="29" fill="#089981"/><rect x="213" y="563" width="3" height="20" fill="#089981"/><rect x="220" y="559" width="1" height="20" fill="#f23645"/><rect x="219" y="563" width="3" height="13" fill="#f23645"/><rect x="226" y="562" width="1" height="20" fill="#089981"/><rect x="225" y="569" width="3" height="7" fill="#089981"/><rect x="231" y="564" width="1" height="21" fill="#f23645"/><rect x="230" y="575" width="3" height="4" fill="#f23645"/><rect x="237" y="573" width="1" height="18" fill="#f23645"/><rect x="236" y="578" width="3" height="7" fill="#f23645"/><rect x="243" y="553" width="1" height="32" fill="#089981"/><rect x="242" y="558" width="3" height="27" fill="#089981"/><rect x="249" y="537" width="1" height="28" fill="#f23645"/><rect x="248" y="558" width="3" height="4" fill="#f23645"/><rect x="254" y="556" width="1" height="23" fill="#f23645"/><rect x="253" y="561" width="3" height="17" fill="#f23645"/><rect x="260" y="574" width="1" height="23" fill="#f23645"/><rect x="259" y="577" width="3" height="8" fill="#f23645"/><rect x="266" y="559" width="1" height="28" fill="#089981"/><rect x="265" y="561" width="3" height="24" fill="#089981"/><rect x="272" y="536" width="1" height="34" fill="#089981"/><rect x="271" y="542" width="3" height="20" fill="#089981"/><rect x="277" y="522" width="1" height="25" fill="#089981"/><rect x="276" y="527" width="3" height="16" fill="#089981"/><rect x="283" y="526" width="1" height="9" fill="#f23645"/><rect x="282" y="527" width="3" height="8" fill="#f23645"/><rect x="289" y="516" width="1" height="19" fill="#089981"/><rect x="288" y="519" width="3" height="16" fill="#089981"/><rect x="295" y="510" width="1" height="16" fill="#f23645"/><rect x="294" y="519" width="3" height="6" fill="#f23645"/><rect x="300" y="508" width="1" height="20" fill="#089981"/><rect x="299" y="514" width="3" height="11" fill="#089981"/><rect x="306" y="501" width="1" height="14" fill="#089981"/><rect x="305" y="512" width="3" height="3" fill="#089981"/><rect x="312" y="501" width="1" height="12" fill="#089981"/><rect x="311" y="503" width="3" height="10" fill="#089981"/><rect x="317" y="498" width="1" height="30" fill="#f23645"/><rect x="316" y="503" width="3" height="25" fill="#f23645"/><rect x="323" y="490" width="1" height="38" fill="#089981"/><rect x="322" y="493" width="3" height="35" fill="#089981"/><rect x="329" y="486" width="1" height="15" fill="#f23645"/><rect x="328" y="493" width="3" height="7" fill="#f23645"/><rect x="335" y="498" width="1" height="33" fill="#f23645"/><rect x="334" y="499" width="3" height="26" fill="#f23645"/><rect x="340" y="516" width="1" height="16" fill="#089981"/><rect x="339" y="523" width="3" height="2" fill="#089981"/><rect x="346" y="512" width="1" height="28" fill="#f23645"/><rect x="345" y="523" width="3" height="12" fill="#f23645"/><rect x="352" y="516" width="1" height="19" fill="#089981"/><rect x="351" y="519" width="3" height="16" fill="#089981"/><rect x="358" y="503" width="1" height="18" fill="#089981"/><rect x="357" y="509" width="3" height="11" fill="#089981"/><rect x="363" y="501" width="1" height="21" fill="#f23645"/><rect x="362" y="509" width="3" height="11" fill="#f23645"/><rect x="369" y="517" width="1" height="30" fill="#f23645"/><rect x="368" y="519" width="3" height="24" fill="#f23645"/><rect x="375" y="529" width="1" height="13" fill="#089981"/><rect x="374" y="533" width="3" height="8" fill="#089981"/><rect x="381" y="523" width="1" height="22" fill="#f23645"/><rect x="380" y="533" width="3" height="9" fill="#f23645"/><rect x="386" y="528" width="1" height="19" fill="#089981"/><rect x="385" y="538" width="3" height="4" fill="#089981"/><rect x="392" y="523" width="1" height="16" fill="#f23645"/><rect x="391" y="538" width="3" height="1" fill="#f23645"/><rect x="398" y="536" width="1" height="27" fill="#f23645"/><rect x="397" y="538" width="3" height="25" fill="#f23645"/><rect x="403" y="554" width="1" height="31" fill="#f23645"/><rect x="402" y="564" width="3" height="4" fill="#f23645"/><rect x="409" y="555" width="1" height="21" fill="#089981"/><rect x="408" y="566" width="3" height="2" fill="#089981"/><rect x="415" y="545" width="1" height="26" fill="#089981"/><rect x="414" y="561" width="3" height="6" fill="#089981"/><rect x="421" y="556" width="1" height="23" fill="#f23645"/><rect x="420" y="561" width="3" height="14" fill="#f23645"/><rect x="426" y="568" width="1" height="26" fill="#f23645"/><rect x="425" y="574" width="3" height="17" fill="#f23645"/><rect x="432" y="560" width="1" height="30" fill="#089981"/><rect x="431" y="569" width="3" height="21" fill="#089981"/><rect x="438" y="555" width="1" height="25" fill="#089981"/><rect x="437" y="557" width="3" height="13" fill="#089981"/><rect x="444" y="550" width="1" height="16" fill="#f23645"/><rect x="443" y="557" width="3" height="3" fill="#f23645"/><rect x="449" y="542" width="1" height="24" fill="#089981"/><rect x="448" y="549" width="3" height="11" fill="#089981"/><rect x="455" y="543" width="1" height="26" fill="#f23645"/><rect x="454" y="549" width="3" height="16" fill="#f23645"/><rect x="461" y="548" width="1" height="18" fill="#089981"/><rect x="460" y="550" width="3" height="15" fill="#089981"/><rect x="467" y="534" width="1" height="17" fill="#089981"/><rect x="466" y="534" width="3" height="17" fill="#089981"/><rect x="472" y="521" width="1" height="16" fill="#089981"/><rect x="471" y="525" width="3" height="10" fill="#089981"/><rect x="478" y="495" width="1" height="34" fill="#089981"/><rect x="477" y="519" width="3" height="7" fill="#089981"/><rect x="484" y="515" width="1" height="35" fill="#f23645"/><rect x="483" y="519" width="3" height="22" fill="#f23645"/><rect x="489" y="532" width="1" height="30" fill="#089981"/><rect x="488" y="541" width="3" height="5" fill="#089981"/><rect x="495" y="529" width="1" height="24" fill="#089981"/><rect x="494" y="532" width="3" height="10" fill="#089981"/><rect x="501" y="517" width="1" height="16" fill="#089981"/><rect x="500" y="520" width="3" height="13" fill="#089981"/><rect x="507" y="513" width="1" height="27" fill="#f23645"/><rect x="506" y="520" width="3" height="15" fill="#f23645"/><rect x="512" y="513" width="1" height="25" fill="#f23645"/><rect x="511" y="534" width="3" height="2" fill="#f23645"/><rect x="518" y="521" width="1" height="19" fill="#089981"/><rect x="517" y="536" width="3" height="3" fill="#089981"/><rect x="524" y="517" width="1" height="29" fill="#089981"/><rect x="523" y="521" width="3" height="16" fill="#089981"/><rect x="530" y="499" width="1" height="23" fill="#089981"/><rect x="529" y="518" width="3" height="4" fill="#089981"/><rect x="535" y="517" width="1" height="32" fill="#f23645"/><rect x="534" y="518" width="3" height="13" fill="#f23645"/><rect x="541" y="505" width="1" height="33" fill="#089981"/><rect x="540" y="508" width="3" height="23" fill="#089981"/><rect x="547" y="503" width="1" height="36" fill="#089981"/><rect x="546" y="509" width="3" height="30" fill="#089981"/><rect x="553" y="498" width="1" height="21" fill="#f23645"/><rect x="552" y="509" width="3" height="6" fill="#f23645"/><rect x="558" y="482" width="1" height="33" fill="#089981"/><rect x="557" y="487" width="3" height="28" fill="#089981"/><rect x="564" y="469" width="1" height="22" fill="#089981"/><rect x="563" y="478" width="3" height="10" fill="#089981"/><rect x="570" y="463" width="1" height="27" fill="#089981"/><rect x="569" y="477" width="3" height="2" fill="#089981"/><rect x="575" y="453" width="1" height="33" fill="#f23645"/><rect x="574" y="475" width="3" height="11" fill="#f23645"/><rect x="581" y="472" width="1" height="28" fill="#f23645"/><rect x="580" y="485" width="3" height="9" fill="#f23645"/><rect x="587" y="468" width="1" height="26" fill="#089981"/><rect x="586" y="473" width="3" height="21" fill="#089981"/><rect x="593" y="452" width="1" height="27" fill="#089981"/><rect x="592" y="455" width="3" height="19" fill="#089981"/><rect x="598" y="443" width="1" height="17" fill="#089981"/><rect x="597" y="454" width="3" height="2" fill="#089981"/><rect x="604" y="445" width="1" height="25" fill="#f23645"/><rect x="603" y="452" width="3" height="18" fill="#f23645"/><rect x="610" y="457" width="1" height="21" fill="#089981"/><rect x="609" y="464" width="3" height="6" fill="#089981"/><rect x="616" y="423" width="1" height="44" fill="#089981"/><rect x="615" y="425" width="3" height="40" fill="#089981"/><rect x="621" y="396" width="1" height="30" fill="#089981"/><rect x="620" y="399" width="3" height="27" fill="#089981"/><rect x="627" y="374" width="1" height="28" fill="#089981"/><rect x="626" y="376" width="3" height="24" fill="#089981"/><rect x="633" y="371" width="1" height="18" fill="#089981"/><rect x="632" y="374" width="3" height="3" fill="#089981"/><rect x="639" y="323" width="1" height="54" fill="#089981"/><rect x="638" y="325" width="3" height="50" fill="#089981"/><rect x="644" y="304" width="1" height="28" fill="#089981"/><rect x="643" y="307" width="3" height="19" fill="#089981"/><rect x="650" y="276" width="1" height="39" fill="#089981"/><rect x="649" y="277" width="3" height="31" fill="#089981"/><rect x="656" y="275" width="1" height="26" fill="#f23645"/><rect x="655" y="277" width="3" height="6" fill="#f23645"/><rect x="661" y="211" width="1" height="77" fill="#089981"/><rect x="660" y="255" width="3" height="32" fill="#089981"/><rect x="667" y="244" width="1" height="46" fill="#f23645"/><rect x="666" y="255" width="3" height="15" fill="#f23645"/><rect x="673" y="257" width="1" height="42" fill="#f23645"/><rect x="672" y="269" width="3" height="22" fill="#f23645"/><rect x="679" y="272" width="1" height="37" fill="#f23645"/><rect x="678" y="290" width="3" height="13" fill="#f23645"/><rect x="684" y="266" width="1" height="37" fill="#089981"/><rect x="683" y="278" width="3" height="25" fill="#089981"/><rect x="690" y="254" width="1" height="33" fill="#089981"/><rect x="689" y="258" width="3" height="21" fill="#089981"/><rect x="696" y="215" width="1" height="53" fill="#089981"/><rect x="695" y="229" width="3" height="30" fill="#089981"/><rect x="702" y="216" width="1" height="39" fill="#f23645"/><rect x="701" y="229" width="3" height="22" fill="#f23645"/><rect x="707" y="242" width="1" height="22" fill="#f23645"/><rect x="706" y="250" width="3" height="7" fill="#f23645"/><rect x="713" y="250" width="1" height="12" fill="#089981"/><rect x="712" y="256" width="3" height="1" fill="#089981"/><rect x="719" y="230" width="1" height="34" fill="#089981"/><rect x="718" y="248" width="3" height="16" fill="#089981"/><rect x="725" y="225" width="1" height="27" fill="#089981"/><rect x="724" y="235" width="3" height="14" fill="#089981"/><rect x="730" y="224" width="1" height="23" fill="#089981"/><rect x="729" y="231" width="3" height="5" fill="#089981"/><rect x="736" y="228" width="1" height="16" fill="#f23645"/><rect x="735" y="231" width="3" height="8" fill="#f23645"/><rect x="742" y="226" width="1" height="13" fill="#089981"/><rect x="741" y="235" width="3" height="4" fill="#089981"/><rect x="747" y="228" width="1" height="17" fill="#f23645"/><rect x="746" y="235" width="3" height="5" fill="#f23645"/><rect x="753" y="189" width="1" height="51" fill="#089981"/><rect x="752" y="192" width="3" height="48" fill="#089981"/><rect x="759" y="172" width="1" height="27" fill="#089981"/><rect x="758" y="185" width="3" height="8" fill="#089981"/><rect x="765" y="176" width="1" height="33" fill="#f23645"/><rect x="764" y="185" width="3" height="19" fill="#f23645"/><rect x="770" y="200" width="1" height="48" fill="#f23645"/><rect x="769" y="203" width="3" height="43" fill="#f23645"/><rect x="776" y="239" width="1" height="60" fill="#f23645"/><rect x="775" y="245" width="3" height="32" fill="#f23645"/><rect x="782" y="259" width="1" height="56" fill="#f23645"/><rect x="781" y="276" width="3" height="39" fill="#f23645"/><rect x="788" y="275" width="1" height="43" fill="#089981"/><rect x="787" y="289" width="3" height="26" fill="#089981"/><rect x="793" y="233" width="1" height="60" fill="#089981"/><rect x="792" y="253" width="3" height="37" fill="#089981"/><rect x="799" y="234" width="1" height="53" fill="#f23645"/><rect x="798" y="253" width="3" height="32" fill="#f23645"/><rect x="805" y="271" width="1" height="18" fill="#089981"/><rect x="804" y="282" width="3" height="3" fill="#089981"/><rect x="811" y="249" width="1" height="34" fill="#089981"/><rect x="810" y="266" width="3" height="17" fill="#089981"/><rect x="816" y="225" width="1" height="43" fill="#089981"/><rect x="815" y="229" width="3" height="38" fill="#089981"/><rect x="822" y="219" width="1" height="48" fill="#f23645"/><rect x="821" y="229" width="3" height="32" fill="#f23645"/><rect x="828" y="247" width="1" height="28" fill="#f23645"/><rect x="827" y="260" width="3" height="8" fill="#f23645"/><rect x="833" y="266" width="1" height="51" fill="#f23645"/><rect x="832" y="267" width="3" height="50" fill="#f23645"/><rect x="839" y="298" width="1" height="39" fill="#f23645"/><rect x="838" y="316" width="3" height="2" fill="#f23645"/><rect x="845" y="281" width="1" height="55" fill="#f23645"/><rect x="844" y="317" width="3" height="10" fill="#f23645"/><rect x="851" y="321" width="1" height="83" fill="#f23645"/><rect x="850" y="327" width="3" height="61" fill="#f23645"/><rect x="856" y="338" width="1" height="50" fill="#089981"/><rect x="855" y="339" width="3" height="49" fill="#089981"/><rect x="862" y="325" width="1" height="47" fill="#089981"/><rect x="861" y="330" width="3" height="10" fill="#089981"/><rect x="868" y="298" width="1" height="37" fill="#089981"/><rect x="867" y="305" width="3" height="26" fill="#089981"/><rect x="874" y="298" width="1" height="57" fill="#f23645"/><rect x="873" y="305" width="3" height="49" fill="#f23645"/><rect x="879" y="315" width="1" height="42" fill="#089981"/><rect x="878" y="328" width="3" height="26" fill="#089981"/><rect x="885" y="311" width="1" height="36" fill="#089981"/><rect x="884" y="327" width="3" height="2" fill="#089981"/><rect x="891" y="301" width="1" height="28" fill="#089981"/><rect x="890" y="305" width="3" height="21" fill="#089981"/><rect x="897" y="305" width="1" height="46" fill="#f23645"/><rect x="896" y="305" width="3" height="22" fill="#f23645"/><rect x="902" y="316" width="1" height="33" fill="#089981"/><rect x="901" y="325" width="3" height="3" fill="#089981"/><rect x="908" y="312" width="1" height="27" fill="#f23645"/><rect x="907" y="325" width="3" height="1" fill="#f23645"/><rect x="914" y="302" width="1" height="28" fill="#089981"/><rect x="913" y="304" width="3" height="22" fill="#089981"/><rect x="919" y="279" width="1" height="27" fill="#089981"/><rect x="918" y="282" width="3" height="20" fill="#089981"/><rect x="925" y="260" width="1" height="26" fill="#089981"/><rect x="924" y="267" width="3" height="16" fill="#089981"/><rect x="931" y="230" width="1" height="38" fill="#089981"/><rect x="930" y="239" width="3" height="29" fill="#089981"/><rect x="937" y="209" width="1" height="43" fill="#089981"/><rect x="936" y="212" width="3" height="28" fill="#089981"/><rect x="942" y="204" width="1" height="13" fill="#f23645"/><rect x="941" y="212" width="3" height="1" fill="#f23645"/><rect x="948" y="193" width="1" height="33" fill="#089981"/><rect x="947" y="197" width="3" height="16" fill="#089981"/><rect x="954" y="161" width="1" height="37" fill="#089981"/><rect x="953" y="169" width="3" height="29" fill="#089981"/><rect x="960" y="141" width="1" height="31" fill="#089981"/><rect x="959" y="152" width="3" height="18" fill="#089981"/><rect x="965" y="144" width="1" height="40" fill="#f23645"/><rect x="964" y="152" width="3" height="31" fill="#f23645"/><rect x="971" y="178" width="1" height="33" fill="#f23645"/><rect x="970" y="182" width="3" height="22" fill="#f23645"/><rect x="977" y="193" width="1" height="65" fill="#f23645"/><rect x="976" y="207" width="3" height="41" fill="#f23645"/><rect x="983" y="223" width="1" height="40" fill="#089981"/><rect x="982" y="246" width="3" height="2" fill="#089981"/><rect x="988" y="222" width="1" height="27" fill="#089981"/><rect x="987" y="228" width="3" height="19" fill="#089981"/><rect x="994" y="205" width="1" height="71" fill="#f23645"/><rect x="993" y="228" width="3" height="19" fill="#f23645"/><rect x="1000" y="204" width="1" height="45" fill="#089981"/><rect x="999" y="232" width="3" height="15" fill="#089981"/><rect x="1005" y="210" width="1" height="27" fill="#089981"/><rect x="1004" y="223" width="3" height="10" fill="#089981"/><rect x="1011" y="184" width="1" height="42" fill="#089981"/><rect x="1010" y="187" width="3" height="37" fill="#089981"/><rect x="1017" y="184" width="1" height="47" fill="#f23645"/><rect x="1016" y="187" width="3" height="25" fill="#f23645"/><rect x="1023" y="211" width="1" height="46" fill="#f23645"/><rect x="1022" y="211" width="3" height="37" fill="#f23645"/><rect x="1028" y="219" width="1" height="34" fill="#089981"/><rect x="1027" y="225" width="3" height="23" fill="#089981"/><rect x="1034" y="218" width="1" height="30" fill="#f23645"/><rect x="1033" y="225" width="3" height="2" fill="#f23645"/><rect x="1040" y="200" width="1" height="35" fill="#089981"/><rect x="1039" y="220" width="3" height="7" fill="#089981"/><rect x="1046" y="211" width="1" height="23" fill="#f23645"/><rect x="1045" y="220" width="3" height="3" fill="#f23645"/><rect x="1051" y="212" width="1" height="26" fill="#f23645"/><rect x="1050" y="222" width="3" height="9" fill="#f23645"/><rect x="1057" y="226" width="1" height="65" fill="#f23645"/><rect x="1056" y="230" width="3" height="41" fill="#f23645"/><rect x="1063" y="239" width="1" height="47" fill="#089981"/><rect x="1062" y="245" width="3" height="25" fill="#089981"/><rect x="1069" y="220" width="1" height="62" fill="#f23645"/><rect x="1068" y="245" width="3" height="20" fill="#f23645"/><rect x="1074" y="261" width="1" height="27" fill="#f23645"/><rect x="1073" y="264" width="3" height="8" fill="#f23645"/><rect x="1080" y="243" width="1" height="35" fill="#089981"/><rect x="1079" y="248" width="3" height="24" fill="#089981"/><rect x="1086" y="234" width="1" height="32" fill="#089981"/><rect x="1085" y="241" width="3" height="8" fill="#089981"/><rect x="1091" y="228" width="1" height="38" fill="#f23645"/><rect x="1090" y="249" width="3" height="13" fill="#f23645"/><rect x="1097" y="257" width="1" height="19" fill="#f23645"/><rect x="1096" y="261" width="3" height="2" fill="#f23645"/><rect x="1103" y="237" width="1" height="32" fill="#089981"/><rect x="1102" y="252" width="3" height="11" fill="#089981"/><rect x="1109" y="213" width="1" height="45" fill="#089981"/><rect x="1108" y="227" width="3" height="26" fill="#089981"/><rect x="1114" y="212" width="1" height="31" fill="#089981"/><rect x="1113" y="220" width="3" height="8" fill="#089981"/><rect x="1120" y="202" width="1" height="20" fill="#089981"/><rect x="1119" y="217" width="3" height="4" fill="#089981"/><rect x="1126" y="181" width="1" height="39" fill="#089981"/><rect x="1125" y="185" width="3" height="33" fill="#089981"/><rect x="1132" y="172" width="1" height="20" fill="#f23645"/><rect x="1131" y="185" width="3" height="4" fill="#f23645"/><rect x="1137" y="176" width="1" height="18" fill="#089981"/><rect x="1136" y="187" width="3" height="2" fill="#089981"/><rect x="1143" y="182" width="1" height="37" fill="#f23645"/><rect x="1142" y="187" width="3" height="29" fill="#f23645"/><rect x="1149" y="187" width="1" height="36" fill="#089981"/><rect x="1148" y="192" width="3" height="24" fill="#089981"/><rect x="1155" y="185" width="1" height="19" fill="#f23645"/><rect x="1154" y="192" width="3" height="3" fill="#f23645"/><rect x="1160" y="173" width="1" height="26" fill="#089981"/><rect x="1159" y="179" width="3" height="16" fill="#089981"/><rect x="1166" y="178" width="1" height="54" fill="#f23645"/><rect x="1165" y="179" width="3" height="47" fill="#f23645"/><rect x="1172" y="212" width="1" height="40" fill="#f23645"/><rect x="1171" y="225" width="3" height="21" fill="#f23645"/><rect x="1178" y="239" width="1" height="28" fill="#f23645"/><rect x="1177" y="245" width="3" height="20" fill="#f23645"/><rect x="1183" y="258" width="1" height="57" fill="#f23645"/><rect x="1182" y="264" width="3" height="8" fill="#f23645"/><rect x="1189" y="241" width="1" height="41" fill="#089981"/><rect x="1188" y="249" width="3" height="23" fill="#089981"/><rect x="1195" y="225" width="1" height="35" fill="#f23645"/><rect x="1194" y="249" width="3" height="10" fill="#f23645"/><rect x="1200" y="230" width="1" height="38" fill="#089981"/><rect x="1199" y="239" width="3" height="20" fill="#089981"/><rect x="1206" y="208" width="1" height="35" fill="#089981"/><rect x="1205" y="212" width="3" height="31" fill="#089981"/><rect x="1212" y="209" width="1" height="14" fill="#f23645"/><rect x="1211" y="212" width="3" height="7" fill="#f23645"/><rect x="1218" y="212" width="1" height="23" fill="#f23645"/><rect x="1217" y="218" width="3" height="1" fill="#f23645"/><rect x="1223" y="203" width="1" height="21" fill="#089981"/><rect x="1222" y="208" width="3" height="11" fill="#089981"/><rect x="1229" y="188" width="1" height="21" fill="#089981"/><rect x="1228" y="191" width="3" height="18" fill="#089981"/><rect x="1235" y="190" width="1" height="56" fill="#f23645"/><rect x="1234" y="191" width="3" height="41" fill="#f23645"/><rect x="1241" y="207" width="1" height="38" fill="#089981"/><rect x="1240" y="213" width="3" height="19" fill="#089981"/><rect x="1246" y="209" width="1" height="23" fill="#f23645"/><rect x="1245" y="213" width="3" height="17" fill="#f23645"/><rect x="1252" y="215" width="1" height="22" fill="#089981"/><rect x="1251" y="221" width="3" height="9" fill="#089981"/><rect x="1258" y="205" width="1" height="20" fill="#089981"/><rect x="1257" y="217" width="3" height="5" fill="#089981"/><rect x="1264" y="197" width="1" height="24" fill="#089981"/><rect x="1263" y="206" width="3" height="12" fill="#089981"/><rect x="1269" y="196" width="1" height="21" fill="#089981"/><rect x="1268" y="199" width="3" height="8" fill="#089981"/><rect x="1275" y="198" width="1" height="17" fill="#f23645"/><rect x="1274" y="199" width="3" height="3" fill="#f23645"/><rect x="1281" y="180" width="1" height="23" fill="#089981"/><rect x="1280" y="186" width="3" height="16" fill="#089981"/><rect x="1286" y="171" width="1" height="32" fill="#f23645"/><rect x="1285" y="186" width="3" height="14" fill="#f23645"/><rect x="1292" y="167" width="1" height="36" fill="#089981"/><rect x="1291" y="174" width="3" height="26" fill="#089981"/><rect x="1298" y="159" width="1" height="34" fill="#f23645"/><rect x="1297" y="174" width="3" height="17" fill="#f23645"/><rect x="1304" y="177" width="1" height="18" fill="#f23645"/><rect x="1303" y="190" width="3" height="2" fill="#f23645"/><rect x="1309" y="182" width="1" height="17" fill="#089981"/><rect x="1308" y="188" width="3" height="4" fill="#089981"/><rect x="1315" y="164" width="1" height="28" fill="#089981"/><rect x="1314" y="180" width="3" height="9" fill="#089981"/><rect x="1321" y="176" width="1" height="18" fill="#089981"/><rect x="1320" y="179" width="3" height="15" fill="#089981"/><rect x="1327" y="151" width="1" height="29" fill="#089981"/><rect x="1326" y="161" width="3" height="19" fill="#089981"/><rect x="1332" y="126" width="1" height="39" fill="#089981"/><rect x="1331" y="130" width="3" height="32" fill="#089981"/><rect x="1338" y="124" width="1" height="24" fill="#f23645"/><rect x="1337" y="130" width="3" height="1" fill="#f23645"/><rect x="1344" y="112" width="1" height="24" fill="#089981"/><rect x="1343" y="123" width="3" height="8" fill="#089981"/><rect x="1350" y="99" width="1" height="40" fill="#089981"/><rect x="1349" y="100" width="3" height="39" fill="#089981"/><rect x="1355" y="93" width="1" height="39" fill="#f23645"/><rect x="1354" y="100" width="3" height="32" fill="#f23645"/><rect x="1361" y="121" width="1" height="44" fill="#f23645"/><rect x="1360" y="131" width="3" height="18" fill="#f23645"/><rect x="1367" y="134" width="1" height="28" fill="#f23645"/><rect x="1366" y="148" width="3" height="14" fill="#f23645"/><rect x="1372" y="153" width="1" height="24" fill="#f23645"/><rect x="1371" y="161" width="3" height="5" fill="#f23645"/><rect x="1378" y="155" width="1" height="18" fill="#089981"/><rect x="1377" y="156" width="3" height="13" fill="#089981"/><rect x="1384" y="150" width="1" height="18" fill="#f23645"/><rect x="1383" y="156" width="3" height="7" fill="#f23645"/><rect x="1390" y="158" width="1" height="22" fill="#f23645"/><rect x="1389" y="162" width="3" height="18" fill="#f23645"/><rect x="1395" y="154" width="1" height="78" fill="#f23645"/><rect x="1394" y="179" width="3" height="26" fill="#f23645"/><rect x="1401" y="200" width="1" height="37" fill="#f23645"/><rect x="1400" y="204" width="3" height="28" fill="#f23645"/><rect x="1407" y="219" width="1" height="24" fill="#f23645"/><rect x="1406" y="230" width="3" height="7" fill="#f23645"/><rect x="1413" y="221" width="1" height="29" fill="#f23645"/><rect x="1412" y="236" width="3" height="8" fill="#f23645"/><rect x="1418" y="219" width="1" height="52" fill="#089981"/><rect x="1417" y="220" width="3" height="24" fill="#089981"/><rect x="1424" y="219" width="1" height="25" fill="#f23645"/><rect x="1423" y="220" width="3" height="5" fill="#f23645"/><rect x="1430" y="214" width="1" height="47" fill="#f23645"/><rect x="1429" y="224" width="3" height="36" fill="#f23645"/><rect x="1436" y="210" width="1" height="50" fill="#089981"/><rect x="1435" y="215" width="3" height="45" fill="#089981"/><rect x="1441" y="201" width="1" height="41" fill="#f23645"/><rect x="1440" y="215" width="3" height="13" fill="#f23645"/><rect x="1447" y="218" width="1" height="31" fill="#089981"/><rect x="1446" y="224" width="3" height="4" fill="#089981"/><rect x="1453" y="205" width="1" height="52" fill="#f23645"/><rect x="1452" y="224" width="3" height="24" fill="#f23645"/><rect x="1458" y="241" width="1" height="23" fill="#f23645"/><rect x="1457" y="247" width="3" height="14" fill="#f23645"/><rect x="1464" y="254" width="1" height="35" fill="#f23645"/><rect x="1463" y="262" width="3" height="20" fill="#f23645"/><rect x="1470" y="266" width="1" height="34" fill="#f23645"/><rect x="1469" y="281" width="3" height="10" fill="#f23645"/><rect x="1476" y="263" width="1" height="31" fill="#089981"/><rect x="1475" y="270" width="3" height="21" fill="#089981"/><rect x="1481" y="252" width="1" height="55" fill="#089981"/><rect x="1480" y="258" width="3" height="13" fill="#089981"/><rect x="1487" y="232" width="1" height="40" fill="#f23645"/><rect x="1486" y="258" width="3" height="11" fill="#f23645"/><rect x="1493" y="223" width="1" height="49" fill="#089981"/><rect x="1492" y="227" width="3" height="43" fill="#089981"/><rect x="1499" y="209" width="1" height="34" fill="#089981"/><rect x="1498" y="217" width="3" height="11" fill="#089981"/><rect x="1504" y="209" width="1" height="19" fill="#f23645"/><rect x="1503" y="217" width="3" height="5" fill="#f23645"/><rect x="1510" y="188" width="1" height="49" fill="#089981"/><rect x="1509" y="212" width="3" height="10" fill="#089981"/><rect x="1516" y="172" width="1" height="73" fill="#f23645"/><rect x="1515" y="212" width="3" height="4" fill="#f23645"/><rect x="1522" y="180" width="1" height="70" fill="#f23645"/><rect x="1521" y="212" width="3" height="9" fill="#f23645"/><rect x="1527" y="202" width="1" height="21" fill="#089981"/><rect x="1526" y="205" width="3" height="16" fill="#089981"/><rect x="1533" y="180" width="1" height="29" fill="#089981"/><rect x="1532" y="191" width="3" height="15" fill="#089981"/><rect x="1539" y="191" width="1" height="23" fill="#f23645"/><rect x="1538" y="191" width="3" height="21" fill="#f23645"/><rect x="1544" y="194" width="1" height="20" fill="#089981"/><rect x="1543" y="205" width="3" height="7" fill="#089981"/><rect x="1550" y="188" width="1" height="20" fill="#089981"/><rect x="1549" y="190" width="3" height="16" fill="#089981"/><rect x="1556" y="177" width="1" height="29" fill="#f23645"/><rect x="1555" y="190" width="3" height="10" fill="#f23645"/><rect x="1562" y="197" width="1" height="27" fill="#f23645"/><rect x="1561" y="199" width="3" height="25" fill="#f23645"/><rect x="1567" y="218" width="1" height="30" fill="#f23645"/><rect x="1566" y="223" width="3" height="20" fill="#f23645"/><rect x="1573" y="190" width="1" height="55" fill="#089981"/><rect x="1572" y="197" width="3" height="46" fill="#089981"/><rect x="1579" y="192" width="1" height="22" fill="#089981"/><rect x="1578" y="194" width="3" height="16" fill="#089981"/><rect x="1585" y="187" width="1" height="23" fill="#f23645"/><rect x="1584" y="194" width="3" height="6" fill="#f23645"/></g>
<line x1="1355.5" y1="94.5" x2="1759" y2="94.5" stroke="#000" stroke-width="1.25" stroke-dasharray="6 5"/>
<line x1="1516.5" y1="172.5" x2="1759" y2="172.5" stroke="#000" stroke-width="1.25" stroke-dasharray="6 5"/>
<line x1="1355.5" y1="93.5" x2="1613" y2="199.8" stroke="#000" stroke-opacity="0.85" stroke-width="1.45" stroke-dasharray="1.6 1.7"/>
<line x1="1481.5" y1="306.8" x2="1620" y2="212.6" stroke="#000" stroke-opacity="0.85" stroke-width="1.45" stroke-dasharray="1.6 1.7"/>
<line x1="1183.5" y1="315.5" x2="1645" y2="309.3" stroke="#000" stroke-opacity="0.85" stroke-width="1.45" stroke-dasharray="1.6 1.7"/>
<path d="M11.0 717.2 L14.5 715.6 L19.5 737.4 L25.5 745.8 L31.5 741.7 L36.5 737.4 L42.5 738.3 L48.5 736.7 L54.5 736.3 L59.5 736.7 L65.5 764.5 L71.5 761.1 L77.5 775.8 L82.5 781.2 L88.5 779.2 L94.5 793.5 L100.5 788.9 L105.5 793.9 L111.5 786.6 L117.5 780.2 L122.5 779.5 L128.5 797.3 L134.5 792.5 L140.5 802.9 L145.5 790.9 L151.5 787.3 L157.5 789.9 L163.5 792.2 L168.5 819.3 L174.5 812.6 L180.5 817.3 L186.5 822.0 L191.5 818.5 L197.5 829.6 L203.5 809.6 L209.5 797.5 L214.5 786.9 L220.5 791.8 L226.5 789.1 L231.5 793.1 L237.5 795.5 L243.5 781.5 L249.5 782.8 L254.5 790.9 L260.5 793.8 L266.5 780.6 L272.5 772.1 L277.5 765.5 L283.5 769.5 L289.5 762.8 L295.5 765.5 L300.5 761.5 L306.5 760.1 L312.5 756.4 L317.5 772.1 L323.5 757.0 L329.5 761.5 L335.5 775.2 L340.5 775.1 L346.5 780.8 L352.5 773.5 L358.5 768.1 L363.5 774.8 L369.5 786.9 L375.5 781.9 L381.5 786.5 L386.5 784.4 L392.5 784.6 L398.5 797.5 L403.5 800.2 L409.5 799.3 L415.5 795.8 L421.5 802.2 L426.5 810.5 L432.5 793.9 L438.5 786.2 L444.5 787.3 L449.5 780.2 L455.5 789.5 L461.5 780.4 L467.5 771.5 L472.5 766.1 L478.5 763.1 L484.5 777.5 L489.5 778.2 L495.5 772.2 L501.5 766.2 L507.5 775.9 L512.5 776.6 L518.5 777.3 L524.5 766.8 L530.5 765.1 L535.5 775.1 L541.5 761.5 L547.5 762.4 L553.5 766.6 L558.5 752.1 L564.5 747.4 L570.5 747.4 L575.5 754.8 L581.5 762.1 L587.5 751.5 L593.5 743.4 L598.5 742.8 L604.5 756.1 L610.5 754.1 L616.5 738.1 L621.5 729.4 L627.5 724.1 L633.5 723.4 L639.5 714.3 L644.5 711.1 L650.5 708.0 L656.5 711.6 L661.5 708.3 L667.5 718.7 L673.5 732.1 L679.5 740.8 L684.5 734.8 L690.5 730.1 L696.5 725.1 L702.5 737.3 L707.5 740.9 L713.5 740.7 L719.5 738.4 L725.5 735.5 L730.5 734.1 L736.5 739.5 L742.5 738.4 L747.5 741.8 L753.5 728.8 L759.5 727.1 L765.5 740.4 L770.5 766.5 L776.5 779.8 L782.5 793.2 L788.5 783.2 L793.5 771.2 L799.5 782.3 L805.5 781.5 L811.5 774.8 L816.5 764.1 L822.5 775.4 L828.5 778.2 L833.5 793.6 L839.5 794.1 L845.5 797.2 L851.5 812.3 L856.5 794.5 L862.5 791.2 L868.5 783.6 L874.5 796.3 L879.5 788.3 L885.5 787.9 L891.5 781.2 L897.5 787.5 L902.5 786.5 L908.5 786.5 L914.5 779.2 L919.5 770.8 L925.5 766.5 L931.5 757.8 L937.5 751.4 L942.5 751.5 L948.5 747.8 L954.5 740.8 L960.5 737.3 L965.5 752.4 L971.5 762.5 L977.5 778.2 L983.5 778.1 L988.5 771.8 L994.5 778.5 L1000.5 774.1 L1005.5 770.5 L1011.5 759.5 L1017.5 769.8 L1023.5 782.5 L1028.5 775.2 L1034.5 775.8 L1040.5 773.6 L1046.5 774.5 L1051.5 777.8 L1057.5 793.2 L1063.5 783.2 L1069.5 789.6 L1074.5 792.5 L1080.5 782.8 L1086.5 779.8 L1091.5 787.6 L1097.5 788.3 L1103.5 783.2 L1109.5 772.8 L1114.5 769.8 L1120.5 768.9 L1126.5 756.7 L1132.5 758.5 L1137.5 758.5 L1143.5 773.8 L1149.5 764.5 L1155.5 765.4 L1160.5 759.8 L1166.5 782.5 L1172.5 791.2 L1178.5 797.5 L1183.5 799.9 L1189.5 788.5 L1195.5 792.5 L1200.5 781.9 L1206.5 772.5 L1212.5 775.2 L1218.5 775.2 L1223.5 769.2 L1229.5 763.8 L1235.5 782.8 L1241.5 775.4 L1246.5 782.5 L1252.5 778.9 L1258.5 777.2 L1264.5 772.5 L1269.5 769.4 L1275.5 770.5 L1281.5 763.4 L1286.5 771.2 L1292.5 760.2 L1298.5 769.6 L1304.5 770.5 L1309.5 768.9 L1315.5 764.7 L1321.5 764.2 L1327.5 755.1 L1332.5 743.8 L1338.5 743.8 L1344.5 740.8 L1350.5 733.7 L1355.5 756.5 L1361.5 767.1 L1367.5 773.8 L1372.5 776.5 L1378.5 771.6 L1384.5 775.4 L1390.5 785.0 L1395.5 798.2 L1401.5 808.2 L1407.5 810.2 L1413.5 812.3 L1418.5 797.2 L1424.5 799.6 L1430.5 812.3 L1436.5 788.5 L1441.5 793.2 L1447.5 792.1 L1453.5 801.0 L1458.5 806.6 L1464.5 812.3 L1470.5 814.9 L1476.5 803.9 L1481.5 796.3 L1487.5 800.3 L1493.5 780.5 L1499.5 776.2 L1504.5 777.8 L1510.5 774.1 L1516.5 775.2 L1522.5 778.2 L1527.5 770.1 L1533.5 764.5 L1539.5 775.8 L1544.5 772.5 L1550.5 765.8 L1556.5 771.6 L1562.5 783.9 L1567.5 793.2 L1573.5 772.1 L1579.5 770.5 L1585.5 773.2" fill="none" stroke="#7e57c2" stroke-width="1.1" stroke-linejoin="round"/>
<g transform="translate(1584.9 679)"><circle r="10.3" fill="#fff" stroke="#f23645" stroke-width="1.5"/><circle r="8.4" fill="#0d47a1"/><path d="M0 0 L-8.4 0 A8.4 8.4 0 0 1 0 -8.4 Z" fill="#fff"/><path d="M-7.2 -6.6 h7.2 v1.6 h-5.4 v5 h-1.8 z" fill="#f23645"/><path d="M-3.4 -4.9 L-0.2 -4.9 L-0.2 -1.7 Z M-5.2 -3.1 L-5.2 -0.2 L-2.2 -0.2 Z" fill="#0d47a1"/><path d="M-4.9 -4.6 L-0.3 -0.2" stroke="#f23645" stroke-width="0.9"/><circle cx="-3.7" cy="3.8" r="1.3" fill="#fff"/><circle cx="3.4" cy="-3.6" r="0.8" fill="#fff"/><circle cx="5.3" cy="-1.6" r="0.8" fill="#fff"/><circle cx="1.5" cy="-0.7" r="0.7" fill="#fff"/><circle cx="3.3" cy="4.2" r="0.8" fill="#fff"/></g>
<rect x="10" y="27" width="1813" height="844" fill="none" stroke="#eef0f6" stroke-width="2" shape-rendering="crispEdges"/>
<text x="1769.3" y="44.9" font-size="12" fill="#131722" text-anchor="start" textLength="19.2" lengthAdjust="spacingAndGlyphs">JPY</text>
<text x="1769.5" y="59.8" font-size="12" fill="#131722" text-anchor="start" textLength="41.4" lengthAdjust="spacingAndGlyphs">100.000</text>
<text x="1769.5" y="113.8" font-size="12" fill="#131722" text-anchor="start" textLength="35.0" lengthAdjust="spacingAndGlyphs">98.000</text>
<text x="1769.5" y="168.8" font-size="12" fill="#131722" text-anchor="start" textLength="35.0" lengthAdjust="spacingAndGlyphs">96.000</text>
<text x="1769.5" y="223.8" font-size="12" fill="#131722" text-anchor="start" textLength="35.0" lengthAdjust="spacingAndGlyphs">94.000</text>
<text x="1769.5" y="278.8" font-size="12" fill="#131722" text-anchor="start" textLength="35.0" lengthAdjust="spacingAndGlyphs">92.000</text>
<text x="1769.5" y="333.8" font-size="12" fill="#131722" text-anchor="start" textLength="35.0" lengthAdjust="spacingAndGlyphs">90.000</text>
<text x="1769.5" y="388.8" font-size="12" fill="#131722" text-anchor="start" textLength="35.0" lengthAdjust="spacingAndGlyphs">88.000</text>
<text x="1769.5" y="443.8" font-size="12" fill="#131722" text-anchor="start" textLength="35.0" lengthAdjust="spacingAndGlyphs">86.000</text>
<text x="1769.5" y="498.8" font-size="12" fill="#131722" text-anchor="start" textLength="35.0" lengthAdjust="spacingAndGlyphs">84.000</text>
<text x="1769.5" y="553.8" font-size="12" fill="#131722" text-anchor="start" textLength="35.0" lengthAdjust="spacingAndGlyphs">82.000</text>
<text x="1769.5" y="608.8" font-size="12" fill="#131722" text-anchor="start" textLength="35.0" lengthAdjust="spacingAndGlyphs">80.000</text>
<text x="1769.5" y="663.8" font-size="12" fill="#131722" text-anchor="start" textLength="35.0" lengthAdjust="spacingAndGlyphs">78.000</text>
<text x="1769.3" y="725.9" font-size="12" fill="#131722" text-anchor="start" textLength="29.2" lengthAdjust="spacingAndGlyphs">80.00</text>
<text x="1769.3" y="765.4" font-size="12" fill="#131722" text-anchor="start" textLength="29.2" lengthAdjust="spacingAndGlyphs">60.00</text>
<text x="1769.3" y="804.8" font-size="12" fill="#131722" text-anchor="start" textLength="29.2" lengthAdjust="spacingAndGlyphs">40.00</text>
<text x="1769.3" y="844.3" font-size="12" fill="#131722" text-anchor="start" textLength="29.2" lengthAdjust="spacingAndGlyphs">20.00</text>
<rect x="1760" y="843" width="61" height="26" fill="#fff"/>
<defs><linearGradient id="fd" x1="0" y1="0" x2="0" y2="1"><stop offset="0" stop-color="#fff" stop-opacity="1"/><stop offset="0.45" stop-color="#fff" stop-opacity="0.8"/><stop offset="1" stop-color="#fff" stop-opacity="0"/></linearGradient></defs><rect x="1762" y="47" width="58" height="13" fill="url(#fd)"/>
<path d="M1759 86 h50 a2 2 0 0 1 2 2 v13 a2 2 0 0 1 -2 2 h-50 z" fill="#000"/><text x="1769.3" y="99.0" font-size="12" fill="#fff" text-anchor="start" font-weight="bold" textLength="35.6" lengthAdjust="spacingAndGlyphs">98.599</text>
<path d="M1759 164 h50 a2 2 0 0 1 2 2 v13 a2 2 0 0 1 -2 2 h-50 z" fill="#000"/><text x="1769.3" y="177.0" font-size="12" fill="#fff" text-anchor="start" font-weight="bold" textLength="35.6" lengthAdjust="spacingAndGlyphs">95.739</text>
<rect x="1705" y="191" width="53" height="17" rx="2" fill="#f23645"/><text stroke="#fff" stroke-width="0.3" x="1710.4" y="204.0" font-size="12" fill="#fff" text-anchor="start" textLength="41.3" lengthAdjust="spacingAndGlyphs">AUDJPY</text>
<path d="M1759 191 h50 a2 2 0 0 1 2 2 v13 a2 2 0 0 1 -2 2 h-50 z" fill="#f23645"/><text x="1769.3" y="204.0" font-size="12" fill="#fff" text-anchor="start" font-weight="bold" textLength="35.6" lengthAdjust="spacingAndGlyphs">94.756</text>
<path d="M1759 208 h50 a2 2 0 0 1 2 2 v13 a2 2 0 0 1 -2 2 h-50 z" fill="#2962ff"/><text x="1769.3" y="221.0" font-size="12" fill="#fff" text-anchor="start" font-weight="bold" textLength="35.6" lengthAdjust="spacingAndGlyphs">94.571</text>
<path d="M1759 225 h50 a2 2 0 0 1 2 2 v13 a2 2 0 0 1 -2 2 h-50 z" fill="#6a2df5"/><text x="1769.3" y="238.0" font-size="12" fill="#fff" text-anchor="start" font-weight="bold" textLength="35.6" lengthAdjust="spacingAndGlyphs">94.222</text>
<path d="M1759 271 h50 a2 2 0 0 1 2 2 v13 a2 2 0 0 1 -2 2 h-50 z" fill="#e65100"/><text x="1769.3" y="284.0" font-size="12" fill="#fff" text-anchor="start" font-weight="bold" textLength="35.6" lengthAdjust="spacingAndGlyphs">91.852</text>
<path d="M1759 765 h44 a2 2 0 0 1 2 2 v13 a2 2 0 0 1 -2 2 h-44 z" fill="#7e57c2"/><text x="1769.3" y="778.0" font-size="12" fill="#fff" text-anchor="start" font-weight="bold" textLength="29.5" lengthAdjust="spacingAndGlyphs">53.86</text>
<text x="49.8" y="861.0" font-size="12" fill="#131722" text-anchor="start" textLength="19.3" lengthAdjust="spacingAndGlyphs">Nov</text>
<text x="176.8" y="861.0" font-size="12" fill="#131722" text-anchor="start" textLength="19.3" lengthAdjust="spacingAndGlyphs">Dec</text>
<text x="305.4" y="861.0" font-size="12" fill="#131722" text-anchor="start" font-weight="bold" textLength="24.2" lengthAdjust="spacingAndGlyphs">2022</text>
<text x="429.1" y="861.0" font-size="12" fill="#131722" text-anchor="start" textLength="18.7" lengthAdjust="spacingAndGlyphs">Feb</text>
<text x="544.1" y="861.0" font-size="12" fill="#131722" text-anchor="start" textLength="18.7" lengthAdjust="spacingAndGlyphs">Mar</text>
<text x="676.1" y="861.0" font-size="12" fill="#131722" text-anchor="start" textLength="16.9" lengthAdjust="spacingAndGlyphs">Apr</text>
<text x="795.2" y="861.0" font-size="12" fill="#131722" text-anchor="start" textLength="20.5" lengthAdjust="spacingAndGlyphs">May</text>
<text x="922.7" y="861.0" font-size="12" fill="#131722" text-anchor="start" textLength="17.5" lengthAdjust="spacingAndGlyphs">Jun</text>
<text x="1050.6" y="861.0" font-size="12" fill="#131722" text-anchor="start" textLength="13.9" lengthAdjust="spacingAndGlyphs">Jul</text>
<text x="1168.8" y="861.0" font-size="12" fill="#131722" text-anchor="start" textLength="19.3" lengthAdjust="spacingAndGlyphs">Aug</text>
<text x="1299.8" y="861.0" font-size="12" fill="#131722" text-anchor="start" textLength="19.3" lengthAdjust="spacingAndGlyphs">Sep</text>
<text x="1428.1" y="861.0" font-size="12" fill="#131722" text-anchor="start" textLength="16.9" lengthAdjust="spacingAndGlyphs">Oct</text>
<text x="1546.8" y="861.0" font-size="12" fill="#131722" text-anchor="start" textLength="19.3" lengthAdjust="spacingAndGlyphs">Nov</text>
<text x="1672.8" y="861.0" font-size="12" fill="#131722" text-anchor="start" textLength="19.3" lengthAdjust="spacingAndGlyphs">Dec</text>
<g fill="#1e222d"><path d="M10 883 h8 v10 h-4.3 v-5.4 h-3.7 z"/><circle cx="21.3" cy="884.8" r="1.7"/><path d="M24.3 883 h5.2 l-3.3 10 h-5.2 z"/></g>
<text x="33.2" y="893.0" font-size="12.5" fill="#1e222d" text-anchor="start" textLength="70.0" lengthAdjust="spacingAndGlyphs">TradingView</text>
</svg>
</body></html>
